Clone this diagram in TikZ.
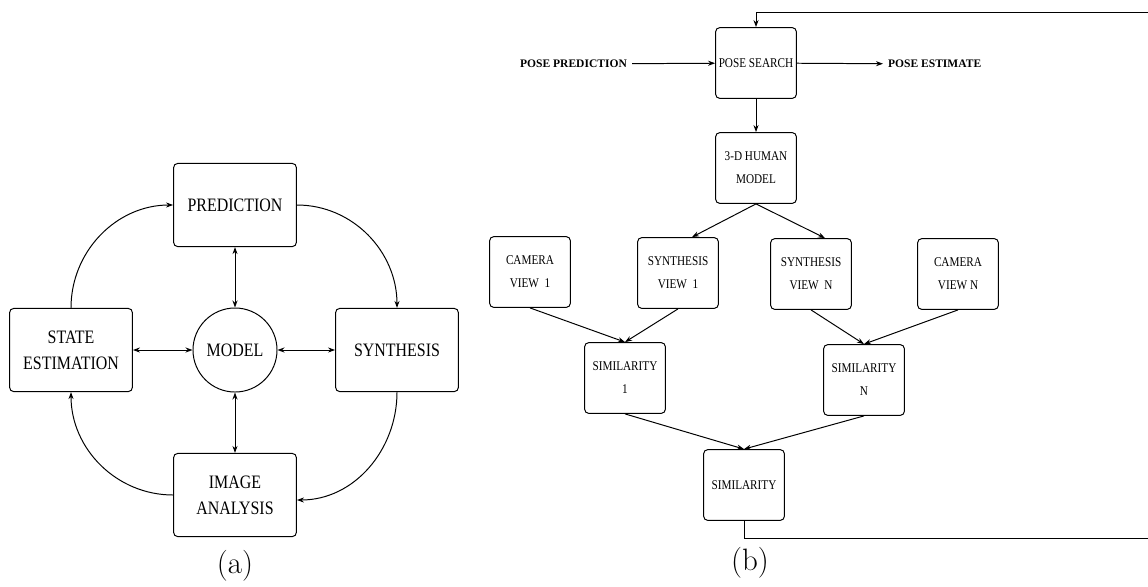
\documentclass[tikz,border=0pt]{standalone}
\usepackage{fontspec}
\usepackage{tikz}
\usetikzlibrary{arrows.meta}
\newfontfamily\boxfont[FakeStretch=0.84]{Liberation Serif}
\newfontfamily\lblfont{Liberation Serif}

\begin{document}
\begin{tikzpicture}[x=0.025cm,y=-0.025cm,line width=0.7pt,
	>={Stealth[length=5pt,width=3.6pt]},
	abox/.style={draw,rounded corners=3pt,minimum width=3.07cm,minimum height=2.08cm,
		align=center,inner sep=0pt,font=\boxfont\fontsize{13.5}{18.5}\selectfont},
	bbox/.style={draw,rounded corners=3pt,minimum width=2.02cm,minimum height=1.77cm,
		align=center,inner sep=0pt,font=\boxfont\fontsize{9.5}{16.3}\selectfont},
	lbl/.style={font=\lblfont\bfseries\fontsize{8.2}{10}\selectfont},
	captext/.style={font=\fontsize{22}{26}\selectfont}]
	\useasboundingbox (0,0) rectangle (1148,586);
	% (a)
	\node[abox] (pred) at (235,205) {PREDICTION};
	\node[abox] (state) at (71,350) {STATE\\ESTIMATION};
	\node[draw,circle,minimum size=2.1cm,inner sep=0pt,font=\boxfont\fontsize{13.5}{18.5}\selectfont] (model) at (235,350) {MODEL};
	\node[abox] (synth) at (397,350) {SYNTHESIS};
	\node[abox] (image) at (235,495) {IMAGE\\ANALYSIS};
	\node[captext] (capa) at (235,566) {(a)};
	\draw[<->] (pred) -- (model);
	\draw[<->] (state) -- (model);
	\draw[<->] (synth) -- (model);
	\draw[<->] (image) -- (model);
	\draw[->] (state.north) to[out=90,in=180] (pred.west);
	\draw[->] (pred.east) to[out=0,in=90] (synth.north);
	\draw[->] (synth.south) to[out=-90,in=0] ([shift={(0,5)}]image.east);
	\draw[->] (image.west) to[out=180,in=-90] (state.south);
	% (b)
	\node[bbox] (search) at (756,63) {POSE SEARCH};
	\node[bbox] (human) at (756,168) {3-D HUMAN\\MODEL};
	\node[bbox] (cam1) at (530,272) {CAMERA\\VIEW\ \ 1};
	\node[bbox] (syn1) at (678,273) {SYNTHESIS\\VIEW\ \ 1};
	\node[bbox] (synN) at (811,274) {SYNTHESIS\\VIEW\ \ N};
	\node[bbox] (camN) at (958,274) {CAMERA\\VIEW N};
	\node[bbox] (sim1) at (625,378) {SIMILARITY\\1};
	\node[bbox] (simN) at (864,380) {SIMILARITY\\N};
	\node[bbox] (sim) at (744,485) {SIMILARITY};
	\node[lbl,anchor=east] (ppred) at (632,64) {POSE PREDICTION};
	\node[lbl,anchor=west] (pest) at (883,64) {POSE ESTIMATE};
	\node[captext] (capb) at (750,563) {(b)};
	\coordinate (fbtop) at (1148,12);
	\coordinate (fbbot) at (1148,538);
	\draw[->] (ppred) -- (search);
	\draw[->] (search) -- (pest);
	\draw[->] (search) -- (human);
	\draw[->] (human.south) -- ([shift={(14,0)}]syn1.north);
	\draw[->] (human.south) -- ([shift={(14,0)}]synN.north);
	\draw[->] (cam1.south) -- (sim1.north);
	\draw[->] (syn1.south) -- (sim1.north);
	\draw[->] (synN.south) -- (simN.north);
	\draw[->] (camN.south) -- (simN.north);
	\draw[->] (sim1.south) -- (sim.north);
	\draw[->] (simN.south) -- (sim.north);
	\draw (sim.south) |- (fbbot);
	\draw[->] (fbtop) -| (search.north);
\end{tikzpicture}
\end{document}
